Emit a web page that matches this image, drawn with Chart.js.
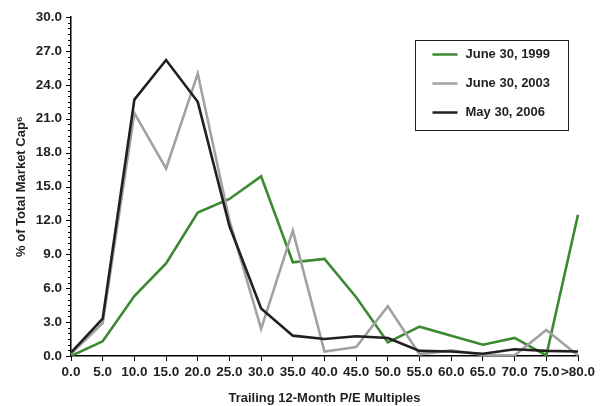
<!DOCTYPE html>
<html>
<head>
<meta charset="utf-8">
<script src="https://cdn.jsdelivr.net/npm/chart.js@4/dist/chart.umd.min.js"></script>
<style>
html,body{margin:0;padding:0;background:#fff;}
#wrap{width:606px;height:406px;position:relative;}
</style>
</head>
<body>
<div id="wrap"><canvas id="c" width="606" height="406"></canvas></div>
<script>
const categories = ['0.0','5.0','10.0','15.0','20.0','25.0','30.0','35.0','40.0','45.0','50.0','55.0','60.0','65.0','70.0','75.0','>80.0'];
const june1999 = [0.0, 1.3, 5.3, 8.2, 12.7, 13.9, 15.9, 8.3, 8.6, 5.2, 1.2, 2.6, 1.8, 1.0, 1.6, 0.05, 12.5];
const june2003 = [0.2, 2.9, 21.5, 16.6, 25.0, 12.0, 2.4, 11.1, 0.4, 0.8, 4.4, 0.15, 0.5, 0.1, 0.05, 2.3, 0.05];
const may2006  = [0.3, 3.3, 22.7, 26.2, 22.5, 11.5, 4.2, 1.8, 1.5, 1.75, 1.6, 0.45, 0.4, 0.2, 0.6, 0.45, 0.4];
const seriesLabels = ['June 30, 1999','June 30, 2003','May 30, 2006'];
const yTickValues = [0,3,6,9,12,15,18,21,24,27,30];

const GREEN = '#3a8a2f', GRAY = '#a2a2a4', BLACK = '#231f20';
const FONT = 'Liberation Sans, Arial, Helvetica, sans-serif';

const minorTicks = {
  id: 'minorTicks',
  afterDraw(chart) {
    const y = chart.scales.y, ctx = chart.ctx;
    ctx.save();
    ctx.strokeStyle = '#000'; ctx.lineWidth = 1;
    for (let v = 0; v <= 30.0001; v += 0.5) {
      const isMajor = Math.abs(v/3 - Math.round(v/3)) < 1e-6;
      const py = Math.round(y.getPixelForValue(v)) + 0.5;
      const len = isMajor ? 5 : 3;
      ctx.beginPath();
      ctx.moveTo(y.right - len, py);
      ctx.lineTo(y.right, py);
      ctx.stroke();
    }
    ctx.restore();
  }
};

const boxLegend = {
  id: 'boxLegend',
  afterDraw(chart) {
    const ctx = chart.ctx;
    const x0 = 415.5, y0 = 40.5, w = 153, h = 90;
    ctx.save();
    ctx.fillStyle = '#fff';
    ctx.fillRect(x0, y0, w, h);
    ctx.strokeStyle = '#231f20'; ctx.lineWidth = 1;
    ctx.strokeRect(x0, y0, w, h);
    ctx.font = 'bold 13px ' + FONT;
    ctx.textBaseline = 'middle';
    chart.data.datasets.forEach((ds, i) => {
      const yy = y0 + 14 + i * 29;
      ctx.strokeStyle = ds.borderColor; ctx.lineWidth = 2.5;
      ctx.beginPath(); ctx.moveTo(x0 + 17, yy); ctx.lineTo(x0 + 42, yy); ctx.stroke();
      ctx.fillStyle = '#231f20';
      ctx.fillText(ds.label, x0 + 50, yy);
    });
    ctx.restore();
  }
};

new Chart(document.getElementById('c'), {
  type: 'line',
  data: {
    labels: categories,
    datasets: [
      {label: seriesLabels[0], data: june1999, borderColor: GREEN, backgroundColor: GREEN, order: 3},
      {label: seriesLabels[1], data: june2003, borderColor: GRAY, backgroundColor: GRAY, order: 2},
      {label: seriesLabels[2], data: may2006, borderColor: BLACK, backgroundColor: BLACK, order: 1}
    ]
  },
  options: {
    responsive: false,
    animation: false,
    devicePixelRatio: 1,
    layout: {padding: {left: 0, right: 28, top: 13, bottom: 0}},
    elements: {
      line: {borderWidth: 2.6, tension: 0, borderJoinStyle: 'miter'},
      point: {radius: 0, hoverRadius: 0}
    },
    plugins: {legend: {display: false}, tooltip: {enabled: false}},
    scales: {
      x: {
        type: 'category',
        offset: false,
        grid: {display: true, drawOnChartArea: false, offset: false, color: '#000', tickLength: 5, tickColor: '#000'},
        border: {display: true, color: '#000', width: 1.5},
        ticks: {color: '#231f20', font: {family: FONT, size: 13.5, weight: 'bold'}, padding: 3, maxRotation: 0, autoSkip: false},
        title: {display: true, text: 'Trailing 12-Month P/E Multiples', color: '#231f20', font: {family: FONT, size: 13, weight: 'bold'}, padding: {top: 6, bottom: 0}},
        afterFit(s) { s.height = 50; }
      },
      y: {
        min: 0, max: 30,
        afterBuildTicks(s) { s.ticks = yTickValues.map(v => ({value: v})); },
        grid: {display: true, drawOnChartArea: false, drawTicks: false, color: '#000'},
        border: {display: true, color: '#000', width: 1.5},
        ticks: {color: '#231f20', font: {family: FONT, size: 13.5, weight: 'bold'}, padding: 9, callback: v => Number(v).toFixed(1)},
        title: {display: true, text: '% of Total Market Cap\u2076', color: '#231f20', font: {family: FONT, size: 13, weight: 'bold'}, padding: {top: 14, bottom: 0}},
        afterFit(s) { s.width = 71; }
      }
    }
  },
  plugins: [minorTicks, boxLegend]
});
</script>
</body>
</html>
